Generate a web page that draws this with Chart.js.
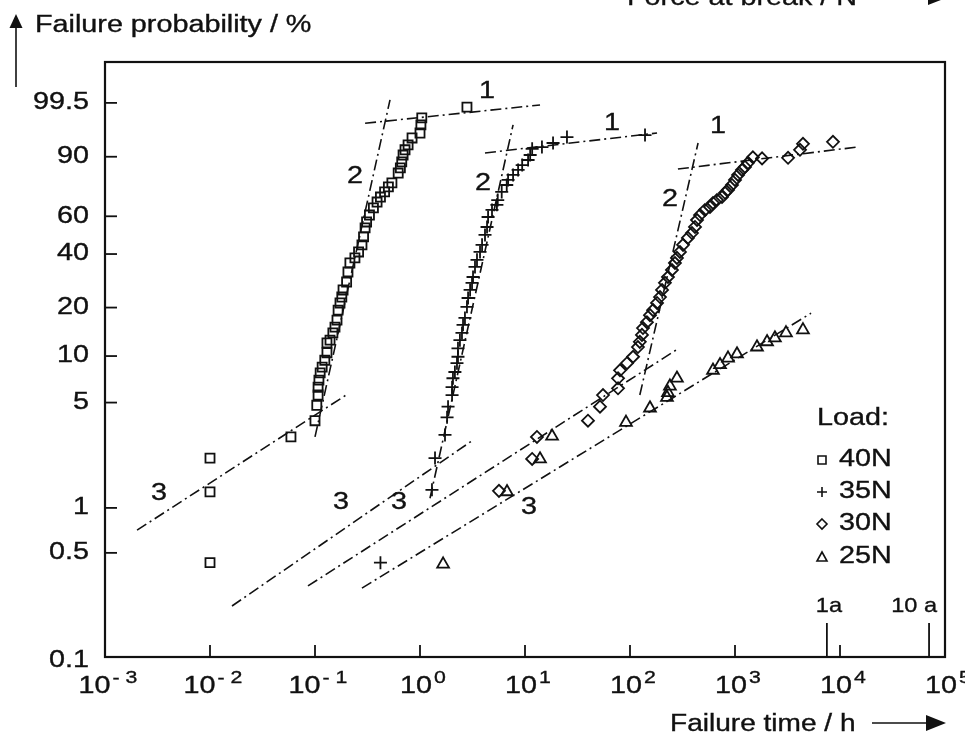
<!DOCTYPE html>
<html><head><meta charset="utf-8">
<script src="https://cdn.jsdelivr.net/npm/chart.js@4.4.1/dist/chart.umd.min.js"></script>
<style>html,body{margin:0;padding:0;background:#fff;overflow:hidden}#wrap{width:965px;height:735px;position:relative}</style>
</head><body><div id="wrap"><canvas id="c" width="965" height="735"></canvas></div>
<script>
// ---- data (failure time in h, failure probability in %) ----
const t40 = [2.8,1.04,1.02,1.0,0.84,0.77,0.72,0.69,0.67,0.65,0.62,0.54,0.50,0.46,0.42,0.39,0.36,0.33,0.31,0.30,0.29,0.28,0.26,0.24,0.215,0.206,0.20,0.185,0.18,0.173,0.166,0.162,0.155,0.148,0.139,0.13,0.13,0.124,0.117,0.112,0.109,0.107,0.107,0.104,0.10,0.059,0.01,0.01,0.01];
const p40 = [99.3,98.5,97.7,96.4,95.4,93.7,92.3,90.6,88.1,85.6,83.3,78.5,76.4,73.7,70.9,68.1,64.8,60.7,56.8,53.5,48.6,44.5,41.0,38.2,35.9,32.1,28.2,25.4,23.1,21.3,19.3,16.8,15.2,14.0,12.6,12.1,10.5,9.4,8.5,7.8,7.0,6.3,5.6,4.8,3.8,2.97,2.15,1.28,0.43];
const t35 = [139,25.1,18.5,14.5,11.7,11.2,10.7,9.4,8.6,7.7,6.9,6.7,6.0,5.5,5.4,4.85,4.45,4.35,4.16,3.9,3.73,3.49,3.34,3.2,3.13,3.0,2.87,2.8,2.68,2.57,2.51,2.4,2.3,2.3,2.25,2.15,2.06,2.02,2.02,1.85,1.81,1.73,1.39,1.3,0.42];
const p35 = [96.0,95.6,94.2,93.1,92.6,90.6,88.8,86.8,84.7,82.4,80.0,77.4,73.7,69.2,66.5,63.6,59.6,54.0,49.7,44.5,41.0,37.3,34.2,30.1,27.9,25.4,22.8,20.2,17.3,15.7,14.0,12.6,11.2,9.9,9.0,7.9,7.2,6.3,5.6,4.7,4.0,3.06,2.15,1.32,0.43];
const t30 = [8570,4440,4160,3200,1810,1480,1330,1245,1165,1070,1000,936,858,803,752,674,617,578,518,464,435,416,389,356,320,299,280,268,251,230,215,202,193,181,166,155,145,133,130,124,119,107,93.6,80.3,76.9,76.9,55.3,51.8,39.8,13.0,11.7,5.65];
const p30 = [94.5,94.0,92.3,89.6,89.4,89.8,87.7,86.0,84.7,82.4,80.0,77.4,74.8,73.2,70.9,69.2,67.6,65.3,63.6,60.7,57.9,54.0,50.7,48.1,44.5,41.0,38.2,35.9,32.9,30.1,27.9,25.4,23.1,21.3,19.3,18.0,16.3,15.0,13.6,12.3,11.4,9.9,9.0,8.1,7.2,6.2,5.6,4.7,3.8,2.97,2.12,1.30];
const t25 = [4440,3060,2400,2020,1620,1045,858,720,617,280,240,230,225,155,91.6,18.1,13.9,6.74,1.66];
const p25 = [14.6,14.0,13.0,12.3,11.4,10.3,9.7,8.8,8.1,7.2,6.4,5.8,5.4,4.6,3.7,3.0,2.12,1.28,0.42];

// fitted lines (1, 2, 3 per load)
const fitStartT = [0.30, 0.10, 0.00202, 4.16, 1.245, 0.0162, 286, 124, 0.0857, 0.28];
const fitStartP = [97.9, 2.97, 0.71, 91.3, 1.16, 0.22, 85.1, 5.6, 0.30, 0.29];
const fitEndT   = [13.9, 0.518, 0.206, 181, 7.7, 3.2, 14500, 445, 274, 5300];
const fitEndP   = [99.41, 99.61, 5.7, 96.4, 97.7, 2.83, 93.1, 94.2, 10.9, 18.5];

// curve labels
const curveLabelText = ['1','1','1','2','2','2','3','3','3','3'];
const curveLabelT = [4.35, 67.4, 689, 0.24, 3.98, 240, 0.00327, 0.177, 0.63, 10.9];
const curveLabelP = [99.81, 97.8, 97.4, 81.4, 78.0, 69.2, 1.24, 1.08, 1.08, 1.01];

// axes
const yTickLabels = [0.1, 0.5, 1, 5, 10, 20, 40, 60, 90, 99.5];
const xTickExponents = [-3, -2, -1, 0, 1, 2, 3, 4, 5];
const yearMarkT = [7500, 70500];
const yearMarkText = ['1a', '10 a'];

const legendTitle = 'Load:';
const legendNames = ['40N', '35N', '30N', '25N'];
const legendStyles = ['rect', 'cross', 'rectRot', 'triangle'];

// ---- helpers ----
const weib = p => Math.log(-Math.log(1 - p / 100));
const INK = '#111';
const FONT = '"Liberation Sans", Arial, Helvetica, sans-serif';
const SX = 1.25;
function txt(ctx, s, x, y, align, size, baseline, sx) {
  sx = sx || SX;
  ctx.save();
  ctx.font = size + 'px ' + FONT;
  ctx.textBaseline = baseline || 'alphabetic';
  ctx.textAlign = 'left';
  const w = ctx.measureText(s).width * sx;
  const x0 = align === 'right' ? x - w : align === 'center' ? x - w / 2 : x;
  ctx.translate(x0, y);
  ctx.scale(sx, 1);
  ctx.fillStyle = INK;
  ctx.strokeStyle = INK;
  ctx.lineWidth = 0.35;
  ctx.fillText(s, 0, 0);
  ctx.strokeText(s, 0, 0);
  ctx.restore();
  return w;
}
function pts(ts, ps) { return ts.map((t, i) => ({x: t, y: weib(ps[i])})); }

const markerBase = {type: 'scatter', borderColor: INK, backgroundColor: 'rgba(0,0,0,0)', borderWidth: 1.8, showLine: false};
const datasets = [
  Object.assign({}, markerBase, {label: '40N', data: pts(t40, p40), pointStyle: 'rect', pointRadius: 6.4}),
  Object.assign({}, markerBase, {label: '35N', data: pts(t35, p35), pointStyle: 'cross', pointRadius: 6.5}),
  Object.assign({}, markerBase, {label: '30N', data: pts(t30, p30), pointStyle: 'rectRot', pointRadius: 6}),
  Object.assign({}, markerBase, {label: '25N', data: pts(t25, p25), pointStyle: 'triangle', pointRadius: 6.8}),
];
fitStartT.forEach((t, i) => {
  datasets.push({type: 'line', label: 'fit' + i,
    data: [{x: t, y: weib(fitStartP[i])}, {x: fitEndT[i], y: weib(fitEndP[i])}],
    borderColor: INK, borderWidth: 1.6, borderDash: [11, 4, 2, 4], pointRadius: 0, fill: false, tension: 0});
});

function drawSym(ctx, style, x, y, r) {
  ctx.save(); ctx.strokeStyle = INK; ctx.lineWidth = 1.6; ctx.beginPath();
  if (style === 'rect') { ctx.rect(x - r, y - r, 2 * r, 2 * r); }
  else if (style === 'cross') { ctx.moveTo(x - r - 1, y); ctx.lineTo(x + r + 1, y); ctx.moveTo(x, y - r - 1); ctx.lineTo(x, y + r + 1); }
  else if (style === 'rectRot') { ctx.moveTo(x, y - r - 1); ctx.lineTo(x + r + 1, y); ctx.lineTo(x, y + r + 1); ctx.lineTo(x - r - 1, y); ctx.closePath(); }
  else { ctx.moveTo(x, y - r - 1); ctx.lineTo(x + r + 1, y + r); ctx.lineTo(x - r - 1, y + r); ctx.closePath(); }
  ctx.stroke(); ctx.restore();
}

const decor = {
  id: 'decor',
  afterDraw(chart) {
    const ctx = chart.ctx, a = chart.chartArea, xs = chart.scales.x, ys = chart.scales.y;
    ctx.save();
    // frame
    ctx.strokeStyle = INK; ctx.lineWidth = 2.2;
    ctx.strokeRect(a.left, a.top, a.right - a.left, a.bottom - a.top);
    // y ticks + labels
    ctx.lineWidth = 1.8;
    yTickLabels.forEach(p => {
      const y = ys.getPixelForValue(weib(p));
      ctx.beginPath(); ctx.moveTo(a.left, y); ctx.lineTo(a.left + 12, y); ctx.stroke();
      txt(ctx, String(p), a.left - 16, y + (p === 0.1 ? 4 : 0), 'right', 23, 'middle');
    });
    // x ticks + labels
    xTickExponents.forEach(e => {
      const x = xs.getPixelForValue(Math.pow(10, e));
      ctx.beginPath(); ctx.moveTo(x, a.bottom); ctx.lineTo(x, a.bottom - 12); ctx.stroke();
      ctx.font = '23px ' + FONT;
      const w1 = ctx.measureText('10').width * SX;
      const es = e < 0 ? '- ' + Math.abs(e) : String(e);
      ctx.font = '17px ' + FONT;
      const w2 = ctx.measureText(es).width * SX;
      const x0 = x + 3 - (w1 + w2 + 2) / 2;
      txt(ctx, '10', x0, a.bottom + 36, 'left', 23);
      txt(ctx, es, x0 + w1 + 2, a.bottom + 26, 'left', 17);
    });
    // year marks
    yearMarkT.forEach((t, i) => {
      const x = xs.getPixelForValue(t);
      ctx.beginPath(); ctx.moveTo(x, a.bottom); ctx.lineTo(x, a.bottom - 34); ctx.stroke();
      if (i === 0) txt(ctx, yearMarkText[i], x + 2, a.bottom - 45, 'center', 21, 'alphabetic', 1.12);
      else txt(ctx, yearMarkText[i], x + 8, a.bottom - 45, 'right', 21, 'alphabetic', 1.12);
    });
    // curve labels
    curveLabelText.forEach((s, i) => {
      txt(ctx, s, xs.getPixelForValue(curveLabelT[i]), ys.getPixelForValue(weib(curveLabelP[i])), 'center', 23, 'middle');
    });
    // legend
    txt(ctx, legendTitle, 817, 425, 'left', 23);
    const ly = [460, 492, 524, 557];
    legendNames.forEach((n, i) => {
      drawSym(ctx, legendStyles[i], 822, ly[i], 4);
      txt(ctx, n, 839, ly[i], 'left', 23, 'middle');
    });
    // y-axis title with arrow
    ctx.fillStyle = INK;
    ctx.beginPath(); ctx.moveTo(16, 14); ctx.lineTo(22.5, 28); ctx.lineTo(9.5, 28); ctx.closePath(); ctx.fill();
    ctx.lineWidth = 1.6; ctx.beginPath(); ctx.moveTo(16, 27); ctx.lineTo(16, 87); ctx.stroke();
    txt(ctx, 'Failure probability / %', 35, 32, 'left', 23);
    // top (cut) label
    txt(ctx, 'Force at break / N', 627, 5, 'left', 23);
    ctx.beginPath(); ctx.moveTo(928, -9); ctx.lineTo(928, 5); ctx.lineTo(946, -2); ctx.closePath(); ctx.fill();
    // x-axis title with arrow
    txt(ctx, 'Failure time / h', 670, 731, 'left', 23, 'alphabetic', 1.22);
    ctx.beginPath(); ctx.moveTo(872, 723); ctx.lineTo(930, 723); ctx.stroke();
    ctx.beginPath(); ctx.moveTo(926, 715); ctx.lineTo(946, 723); ctx.lineTo(926, 731); ctx.closePath(); ctx.fill();
    ctx.restore();
  }
};

new Chart(document.getElementById('c'), {
  type: 'scatter',
  data: {datasets: datasets},
  options: {
    responsive: false, animation: false, devicePixelRatio: 1,
    layout: {padding: {top: 62, right: 20, left: 0, bottom: 0}},
    plugins: {legend: {display: false}, tooltip: {enabled: false}},
    scales: {
      x: {type: 'logarithmic', min: 1e-3, max: 1e5, grid: {display: false}, border: {display: false},
          ticks: {display: false}, afterFit(s) { s.height = 78; }},
      y: {type: 'linear', min: weib(0.1), max: 2.30, grid: {display: false}, border: {display: false},
          ticks: {display: false}, afterFit(s) { s.width = 105; }}
    }
  },
  plugins: [decor]
});
</script></body></html>
